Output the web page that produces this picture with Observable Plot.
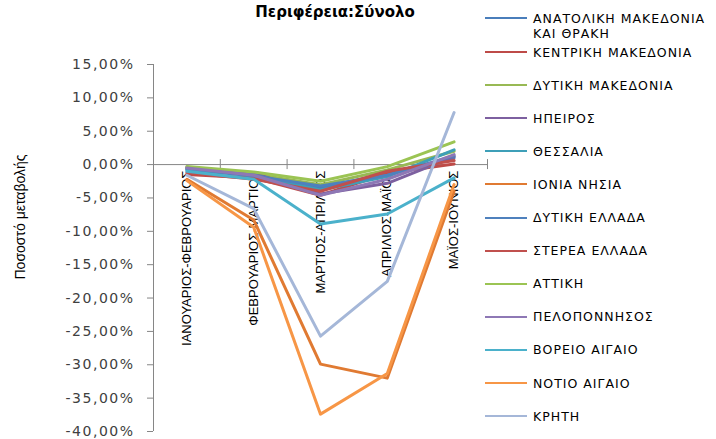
<!DOCTYPE html>
<html><head><meta charset="utf-8">
<script src="https://cdn.jsdelivr.net/npm/d3@7"></script>
<script src="https://cdn.jsdelivr.net/npm/@observablehq/plot@0.6"></script>
<style>
body{margin:0;background:#fff;}
#wrap{position:relative;width:716px;height:439px;overflow:hidden;background:#fff;}
#title{position:absolute;left:0;width:670px;top:3px;text-align:center;font:bold 15px "DejaVu Sans",sans-serif;color:#000;}
#ytitle{position:absolute;left:20px;top:217px;transform:translate(-50%,-50%) rotate(-90deg);white-space:nowrap;font:14px "Liberation Sans",Arial,sans-serif;color:#000;}
.leg-line{position:absolute;left:485px;width:42px;height:2px;}
.leg-text{position:absolute;left:533px;font:12.5px "DejaVu Sans",sans-serif;letter-spacing:1px;color:#000;line-height:15px;white-space:nowrap;}
svg g[aria-label="y-axis tick label"] text{letter-spacing:1.5px;}
</style></head><body><div id="wrap"></div><script>
const categories = ["ΙΑΝΟΥΑΡΙΟΣ-ΦΕΒΡΟΥΑΡΙΟΣ","ΦΕΒΡΟΥΑΡΙΟΣ-ΜΑΡΤΙΟΣ","ΜΑΡΤΙΟΣ-ΑΠΡΙΛΙΟΣ","ΑΠΡΙΛΙΟΣ-ΜΑΪΟΣ","ΜΑΪΟΣ-ΙΟΥΝΙΟΣ"];
const regions = ["ΑΝΑΤΟΛΙΚΗ ΜΑΚΕΔΟΝΙΑ ΚΑΙ ΘΡΑΚΗ","ΚΕΝΤΡΙΚΗ ΜΑΚΕΔΟΝΙΑ","ΔΥΤΙΚΗ ΜΑΚΕΔΟΝΙΑ","ΗΠΕΙΡΟΣ","ΘΕΣΣΑΛΙΑ","ΙΟΝΙΑ ΝΗΣΙΑ","ΔΥΤΙΚΗ ΕΛΛΑΔΑ","ΣΤΕΡΕΑ ΕΛΛΑΔΑ","ΑΤΤΙΚΗ","ΠΕΛΟΠΟΝΝΗΣΟΣ","ΒΟΡΕΙΟ ΑΙΓΑΙΟ","ΝΟΤΙΟ ΑΙΓΑΙΟ","ΚΡΗΤΗ"];
const colors = ["#4A7EBB","#BE4B48","#98B954","#7D60A0","#3E9FB8","#E07A32","#4F81BD","#C0504D","#9BC453","#8E78B5","#4BB1CB","#F79646","#A5B7D8"];
// percentage change values per region (%)
const anatolikiMakedonia = [-0.6, -1.5, -3.5, -1.3, 1.0];
const kentrikiMakedonia  = [-1.5, -2.0, -4.6, -1.3, 0.1];
const dytikiMakedonia    = [-0.5, -1.4, -3.0, -0.8, 2.0];
const ipeiros            = [-0.4, -1.3, -4.4, -2.8, 1.2];
const thessalia          = [-0.8, -1.6, -3.8, -1.8, 2.2];
const ioniaNisia         = [-2.2, -8.3, -29.9, -32.0, -4.0];
const dytikiEllada       = [-0.7, -1.7, -3.2, -1.6, 1.3];
const stereaEllada       = [-1.2, -2.2, -4.0, -1.0, 0.6];
const attiki             = [-0.3, -1.1, -2.5, -0.3, 3.4];
const peloponnisos       = [-0.5, -1.6, -4.6, -2.2, 1.5];
const voreioAigaio       = [-1.0, -2.2, -8.9, -7.4, -2.0];
const notioAigaio        = [-2.4, -9.4, -37.4, -31.3, -3.0];
const kriti              = [-1.6, -6.6, -25.7, -17.5, 7.8];
const yTicks = [15, 10, 5, 0, -5, -10, -15, -20, -25, -30, -35, -40];

const series = [anatolikiMakedonia,kentrikiMakedonia,dytikiMakedonia,ipeiros,thessalia,ioniaNisia,dytikiEllada,stereaEllada,attiki,peloponnisos,voreioAigaio,notioAigaio,kriti];
const data = regions.flatMap((r, i) => series[i].map((v, j) => ({region: r, idx: j, value: v})));
const boundaries = categories.map((c, i) => i + 0.5);
const fmt = d => d.toFixed(2).replace(".", ",") + "%";

const chart = Plot.plot({
  width: 716, height: 439,
  marginLeft: 153, marginRight: 229, marginTop: 64, marginBottom: 8,
  x: {domain: [-0.5, categories.length - 0.5], axis: null},
  y: {domain: [-40, 15], axis: null},
  color: {domain: regions, range: colors},
  style: {fontFamily: "DejaVu Sans", background: "white", overflow: "visible"},
  marks: [
    Plot.axisY({ticks: yTicks, tickFormat: fmt, label: null, tickSize: 6, tickPadding: 13, stroke: "#868686", fill: "#404040", fontSize: 14, fontFamily: "DejaVu Sans"}),
    Plot.ruleX([-0.5], {stroke: "#868686", strokeWidth: 1}),
    Plot.ruleY([0], {stroke: "#868686", strokeWidth: 1}),
    Plot.ruleX(boundaries, {x: d => d, y1: 0, y2: 0, insetTop: -5, insetBottom: -5, stroke: "#868686"}),
    Plot.text(categories, {x: (d, i) => i, y: 0, text: d => d, rotate: -90, textAnchor: "end", dy: 6, fontSize: 13, fontFamily: "Liberation Sans", fill: "#000"}),
    Plot.line(data, {x: "idx", y: "value", z: "region", stroke: "region", strokeWidth: 3})
  ]
});

const wrap = document.getElementById("wrap");
wrap.appendChild(chart);
const title = document.createElement("div");
title.id = "title"; title.textContent = "Περιφέρεια:Σύνολο";
wrap.appendChild(title);
const yt = document.createElement("div");
yt.id = "ytitle"; yt.textContent = "Ποσοστό μεταβολής";
wrap.appendChild(yt);

regions.forEach((r, i) => {
  const yc = i === 0 ? 18 : 52 + (i - 1) * 33.1;
  const ln = document.createElement("div");
  ln.className = "leg-line"; ln.style.top = (yc - 1) + "px"; ln.style.background = colors[i];
  wrap.appendChild(ln);
  const tx = document.createElement("div");
  tx.className = "leg-text"; tx.style.top = (yc - 7.5) + "px";
  if (i === 0) { tx.innerHTML = "ΑΝΑΤΟΛΙΚΗ ΜΑΚΕΔΟΝΙΑ<br>ΚΑΙ ΘΡΑΚΗ"; }
  else tx.textContent = r;
  wrap.appendChild(tx);
});
</script></body></html>
